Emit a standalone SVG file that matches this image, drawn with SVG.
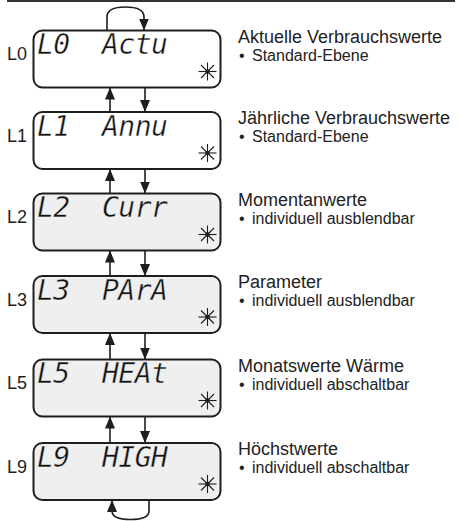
<svg xmlns="http://www.w3.org/2000/svg" width="459" height="521" viewBox="0 0 459 521">
  <style>
    .frame { fill: #ffffff; stroke: #1e1e1e; stroke-width: 2; }
    .frame.hidden { fill: #efefef; }
    .lcd { font-family: "DejaVu Sans Mono", "Liberation Mono", monospace; font-size: 28px; font-style: oblique; fill: #111111; letter-spacing: -0.5px; stroke: #ffffff; stroke-width: 0.4px; }
    .hidden-lcd { stroke: #efefef; }
    .lvl { font-family: "Liberation Sans", Arial, sans-serif; font-size: 18px; fill: #1e1e1e; }
    .head { font-family: "Liberation Sans", Arial, sans-serif; font-size: 18px; fill: #222222; }
    .note { font-family: "Liberation Sans", Arial, sans-serif; font-size: 16px; fill: #222222; }
    .star line { stroke: #1e1e1e; stroke-width: 1.1; }
    .link { fill: none; stroke: #1e1e1e; stroke-width: 1.6; }
  </style>
  <defs>
    <marker id="head" markerUnits="userSpaceOnUse" markerWidth="12" markerHeight="10" refX="12" refY="5" orient="auto">
      <path d="M0,0 L12,5 L0,10 z" fill="#1e1e1e"/>
    </marker>
    <g id="blink" class="star">
      <line x1="-9" y1="0" x2="9" y2="0"/>
      <line x1="0" y1="-9" x2="0" y2="9"/>
      <line x1="-6.5" y1="-6.5" x2="6.5" y2="6.5"/>
      <line x1="-6.5" y1="6.5" x2="6.5" y2="-6.5"/>
      <circle r="2.2" fill="#1e1e1e"/>
    </g>
  </defs>

  <!-- rule across the top -->
  <line x1="7" y1="1" x2="455" y2="1" stroke="#333333" stroke-width="2"/>

  <!-- level L0 -->
  <g id="level-L0">
    <text class="lvl" x="7" y="60">L0</text>
    <rect class="frame" x="33.5" y="30.5" width="187" height="57" rx="9"/>
    <text class="lcd" x="37" y="54">L0</text>
    <text class="lcd" x="102" y="54">Actu</text>
    <use href="#blink" x="207.5" y="71.5"/>
    <text class="head" x="238" y="42.5">Aktuelle Verbrauchswerte</text>
    <text class="note" x="239" y="60.5">•<tspan x="252">Standard-Ebene</tspan></text>
  </g>

  <!-- level L1 -->
  <g id="level-L1">
    <text class="lvl" x="7" y="141.5">L1</text>
    <rect class="frame" x="33.5" y="112" width="187" height="57" rx="9"/>
    <text class="lcd" x="37" y="135.5">L1</text>
    <text class="lcd" x="102" y="135.5">Annu</text>
    <use href="#blink" x="207.5" y="153"/>
    <text class="head" x="238" y="124">Jährliche Verbrauchswerte</text>
    <text class="note" x="239" y="142">•<tspan x="252">Standard-Ebene</tspan></text>
  </g>

  <!-- level L2 -->
  <g id="level-L2">
    <text class="lvl" x="7" y="223">L2</text>
    <rect class="frame hidden" x="33.5" y="193.5" width="187" height="57" rx="9"/>
    <text class="lcd hidden-lcd" x="37" y="217">L2</text>
    <text class="lcd hidden-lcd" x="102" y="217">Curr</text>
    <use href="#blink" x="207.5" y="234.5"/>
    <text class="head" x="238" y="205.5">Momentanwerte</text>
    <text class="note" x="239" y="223.5">•<tspan x="252">individuell ausblendbar</tspan></text>
  </g>

  <!-- level L3 -->
  <g id="level-L3">
    <text class="lvl" x="7" y="305.5">L3</text>
    <rect class="frame hidden" x="33.5" y="276" width="187" height="57" rx="9"/>
    <text class="lcd hidden-lcd" x="37" y="299.5">L3</text>
    <text class="lcd hidden-lcd" x="102" y="299.5">PArA</text>
    <use href="#blink" x="207.5" y="317"/>
    <text class="head" x="238" y="288">Parameter</text>
    <text class="note" x="239" y="306">•<tspan x="252">individuell ausblendbar</tspan></text>
  </g>

  <!-- level L5 -->
  <g id="level-L5">
    <text class="lvl" x="7" y="389">L5</text>
    <rect class="frame hidden" x="33.5" y="359.5" width="187" height="57" rx="9"/>
    <text class="lcd hidden-lcd" x="37" y="383">L5</text>
    <text class="lcd hidden-lcd" x="102" y="383">HEAt</text>
    <use href="#blink" x="207.5" y="400.5"/>
    <text class="head" x="238" y="371.5">Monatswerte Wärme</text>
    <text class="note" x="239" y="389.5">•<tspan x="252">individuell abschaltbar</tspan></text>
  </g>

  <!-- level L9 -->
  <g id="level-L9">
    <text class="lvl" x="7" y="472.5">L9</text>
    <rect class="frame hidden" x="33.5" y="443" width="187" height="57" rx="9"/>
    <text class="lcd hidden-lcd" x="37" y="466.5">L9</text>
    <text class="lcd hidden-lcd" x="102" y="466.5">HIGH</text>
    <use href="#blink" x="207.5" y="484"/>
    <text class="head" x="238" y="455">Höchstwerte</text>
    <text class="note" x="239" y="473">•<tspan x="252">individuell abschaltbar</tspan></text>
  </g>

  <!-- navigation arrows -->
  <g id="connectors">
    <!-- wrap from the top back onto L0 -->
    <path class="link" d="M107,30.5 V17 Q107,7 125.5,7 Q144,7 144,17 V30.5" marker-end="url(#head)"/>
    <!-- L0 / L1 -->
    <line class="link" x1="110" y1="112" x2="110" y2="87.5" marker-end="url(#head)"/>
    <line class="link" x1="145" y1="87.5" x2="145" y2="112" marker-end="url(#head)"/>
    <!-- L1 / L2 -->
    <line class="link" x1="110" y1="193.5" x2="110" y2="169" marker-end="url(#head)"/>
    <line class="link" x1="145" y1="169" x2="145" y2="193.5" marker-end="url(#head)"/>
    <!-- L2 / L3 -->
    <line class="link" x1="110" y1="276" x2="110" y2="250.5" marker-end="url(#head)"/>
    <line class="link" x1="145" y1="250.5" x2="145" y2="276" marker-end="url(#head)"/>
    <!-- L3 / L5 -->
    <line class="link" x1="110" y1="359.5" x2="110" y2="333" marker-end="url(#head)"/>
    <line class="link" x1="145" y1="333" x2="145" y2="359.5" marker-end="url(#head)"/>
    <!-- L5 / L9 -->
    <line class="link" x1="110" y1="443" x2="110" y2="416.5" marker-end="url(#head)"/>
    <line class="link" x1="145" y1="416.5" x2="145" y2="443" marker-end="url(#head)"/>
    <!-- wrap from the bottom back onto L9 -->
    <path class="link" d="M149,500 V511 Q149,519.5 130.5,519.5 Q112,519.5 112,511 V500" marker-end="url(#head)"/>
  </g>
</svg>
